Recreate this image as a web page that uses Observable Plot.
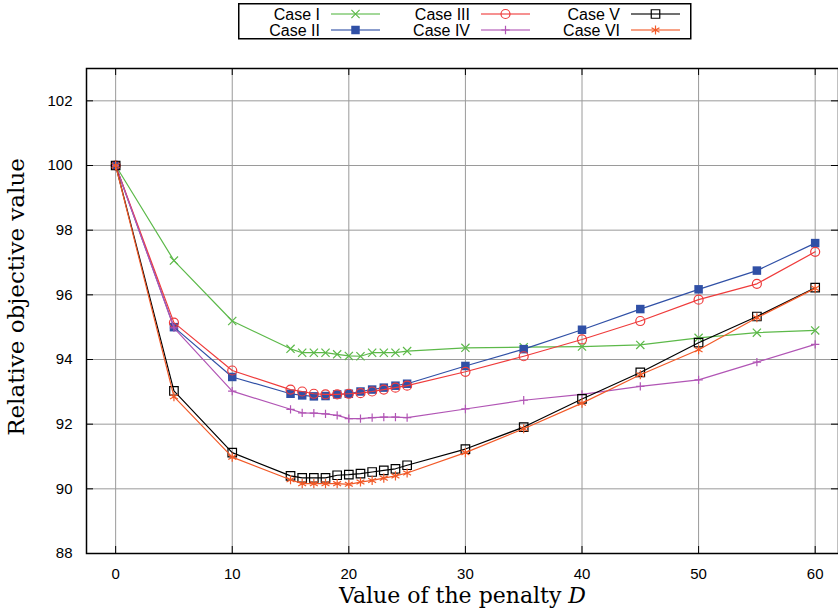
<!DOCTYPE html>
<html>
<head>
<meta charset="utf-8">
<script src="https://cdn.jsdelivr.net/npm/d3@7"></script>
<script src="https://cdn.jsdelivr.net/npm/@observablehq/plot@0.6"></script>
<style>
  html, body { margin: 0; padding: 0; background: #fff; }
  #wrap { position: relative; width: 838px; height: 610px; overflow: hidden; }
</style>
</head>
<body>
<div id="wrap"></div>
<script>
// ---- data ----
const penalty = [0, 5, 10, 15, 16, 17, 18, 19, 20, 21, 22, 23, 24, 25, 30, 35, 40, 45, 50, 55, 60];
const caseI   = [100, 97.06, 95.19, 94.33, 94.21, 94.21, 94.21, 94.16, 94.11, 94.10, 94.21, 94.21, 94.21, 94.26, 94.36, 94.38, 94.40, 94.45, 94.67, 94.83, 94.90];
const caseII  = [100, 95.00, 93.46, 92.94, 92.89, 92.86, 92.87, 92.92, 92.94, 93.01, 93.07, 93.13, 93.19, 93.25, 93.80, 94.32, 94.92, 95.56, 96.17, 96.75, 97.60];
const caseIII = [100, 95.14, 93.66, 93.07, 93.01, 92.94, 92.92, 92.92, 92.94, 92.96, 93.01, 93.07, 93.13, 93.19, 93.62, 94.10, 94.62, 95.19, 95.85, 96.34, 97.33];
const caseIV  = [100, 94.98, 93.02, 92.46, 92.35, 92.34, 92.32, 92.27, 92.17, 92.17, 92.20, 92.22, 92.22, 92.20, 92.47, 92.74, 92.92, 93.17, 93.37, 93.92, 94.47];
const caseV   = [100, 93.03, 91.12, 90.40, 90.34, 90.34, 90.34, 90.42, 90.44, 90.47, 90.52, 90.57, 90.62, 90.73, 91.23, 91.91, 92.78, 93.60, 94.52, 95.33, 96.22];
const caseVI  = [100, 92.85, 90.98, 90.28, 90.16, 90.16, 90.16, 90.16, 90.14, 90.21, 90.26, 90.33, 90.40, 90.49, 91.12, 91.86, 92.65, 93.53, 94.30, 95.29, 96.20];

const seriesNames = ["Case I", "Case II", "Case III", "Case IV", "Case V", "Case VI"];
const seriesValues = [caseI, caseII, caseIII, caseIV, caseV, caseVI];

const xTicks = [0, 10, 20, 30, 40, 50, 60];
const yTicks = [88, 90, 92, 94, 96, 98, 100, 102];

// ---- styles ----
const styles = {
  "Case I":   {color: "#5cb949", symbol: "times",    r: 3.8, fill: "none"},
  "Case II":  {color: "#3050a6", symbol: "square",   r: 4.8, fill: "#3050a6"},
  "Case III": {color: "#ef3b3b", symbol: "circle",   r: 4.5, fill: "none"},
  "Case IV":  {color: "#b155b5", symbol: "plus",     r: 2.8, fill: "none"},
  "Case V":   {color: "#000000", symbol: "square",   r: 4.8, fill: "none"},
  "Case VI":  {color: "#f25a28", symbol: "asterisk", r: 4.3, fill: "none"}
};

const W = 838, H = 610, mL = 86, mR = 0, mT = 68, mB = 57;
const innerW = W - mL - mR, innerH = H - mT - mB;
const tickLen = 7;

const marks = [
  Plot.gridX(xTicks, {stroke: "#9a9a9a", strokeOpacity: 1, strokeWidth: 1}),
  Plot.gridY(yTicks, {stroke: "#9a9a9a", strokeOpacity: 1, strokeWidth: 1}),
  Plot.tickX(xTicks, {x: d => d, stroke: "#000", insetTop: innerH - tickLen}),
  Plot.tickX(xTicks, {x: d => d, stroke: "#000", insetBottom: innerH - tickLen}),
  Plot.tickY(yTicks, {y: d => d, stroke: "#000", insetRight: innerW - tickLen}),
  Plot.tickY(yTicks, {y: d => d, stroke: "#000", insetLeft: innerW - tickLen}),
  Plot.axisX(xTicks, {tickSize: 0, tickPadding: 15, fontSize: 15, fontFamily: "Liberation Sans, Arial, sans-serif", label: null, fill: "#000"}),
  Plot.axisY(yTicks, {tickSize: 0, tickPadding: 14, fontSize: 15, fontFamily: "Liberation Sans, Arial, sans-serif", label: null, fill: "#000"}),
];

seriesNames.forEach((name, i) => {
  const st = styles[name];
  const rows = penalty.map((p, j) => ({x: p, y: seriesValues[i][j]}));
  marks.push(Plot.line(rows, {x: "x", y: "y", stroke: st.color, strokeWidth: 1.2}));
  marks.push(Plot.dot(rows, {x: "x", y: "y", symbol: st.symbol, r: st.r,
    stroke: st.fill === "none" ? st.color : "none", fill: st.fill, strokeWidth: 1.2}));
});

marks.push(Plot.frame({stroke: "#000", strokeWidth: 1.5}));
marks.push(Plot.text(["Relative objective value"], {frameAnchor: "left", rotate: -90, dx: -70, dy: -14,
  fontSize: 23, fontFamily: "DejaVu Serif, serif", fill: "#000", textAnchor: "middle"}));
marks.push(Plot.text(["Value of the penalty D"], {frameAnchor: "bottom", lineAnchor: "bottom", dy: 49,
  fontSize: 22, fontFamily: "DejaVu Serif, serif", fill: "#000", textAnchor: "middle"}));

const chart = Plot.plot({
  width: W, height: H,
  marginLeft: mL, marginRight: mR, marginTop: mT, marginBottom: mB,
  x: {domain: [-2.5, 62], ticks: xTicks},
  y: {domain: [88, 103], ticks: yTicks},
  style: {background: "#fff", color: "#000", overflow: "visible"},
  marks
});
chart.style.position = "absolute";
chart.style.left = "0px";
chart.style.top = "0px";
document.getElementById("wrap").appendChild(chart);

// italic D in x label
d3.select(chart).selectAll("text").each(function() {
  if (this.textContent === "Value of the penalty D") {
    const t = d3.select(this);
    t.text(null);
    t.append("tspan").text("Value of the penalty ");
    t.append("tspan").attr("font-style", "italic").text("D");
  }
});

// ---- legend ----
const legendCols = [["Case I", "Case II"], ["Case III", "Case IV"], ["Case V", "Case VI"]];
const colTextEnd = [82, 232, 382];
const rowY = [11, 27];
const lg = d3.create("svg").attr("width", 454).attr("height", 37)
  .style("position", "absolute").style("left", "238px").style("top", "3px");
lg.append("rect").attr("x", 0.75).attr("y", 0.75).attr("width", 452).attr("height", 35)
  .attr("fill", "#fff").attr("stroke", "#000").attr("stroke-width", 1.5);
const symMap = {times: d3.symbolTimes, square: d3.symbolSquare, circle: d3.symbolCircle,
  plus: d3.symbolPlus, asterisk: d3.symbolAsterisk};
legendCols.forEach((col, ci) => {
  col.forEach((name, ri) => {
    const st = styles[name];
    const y = rowY[ri];
    lg.append("text").attr("x", colTextEnd[ci]).attr("y", y).attr("dy", "0.36em")
      .attr("text-anchor", "end").attr("font-family", "Liberation Sans, Arial, sans-serif")
      .attr("font-size", 16).text(name);
    const x0 = colTextEnd[ci] + 11, x1 = x0 + 49;
    lg.append("line").attr("x1", x0).attr("x2", x1).attr("y1", y).attr("y2", y)
      .attr("stroke", st.color).attr("stroke-width", 1.3).attr("stroke-opacity", 0.75);
    lg.append("path").attr("transform", `translate(${(x0 + x1) / 2},${y})`)
      .attr("d", d3.symbol(symMap[st.symbol], st.r * st.r * Math.PI)())
      .attr("fill", st.fill).attr("stroke", st.fill === "none" ? st.color : "none").attr("stroke-width", 1.2);
  });
});
document.getElementById("wrap").appendChild(lg.node());
</script>
</body>
</html>
